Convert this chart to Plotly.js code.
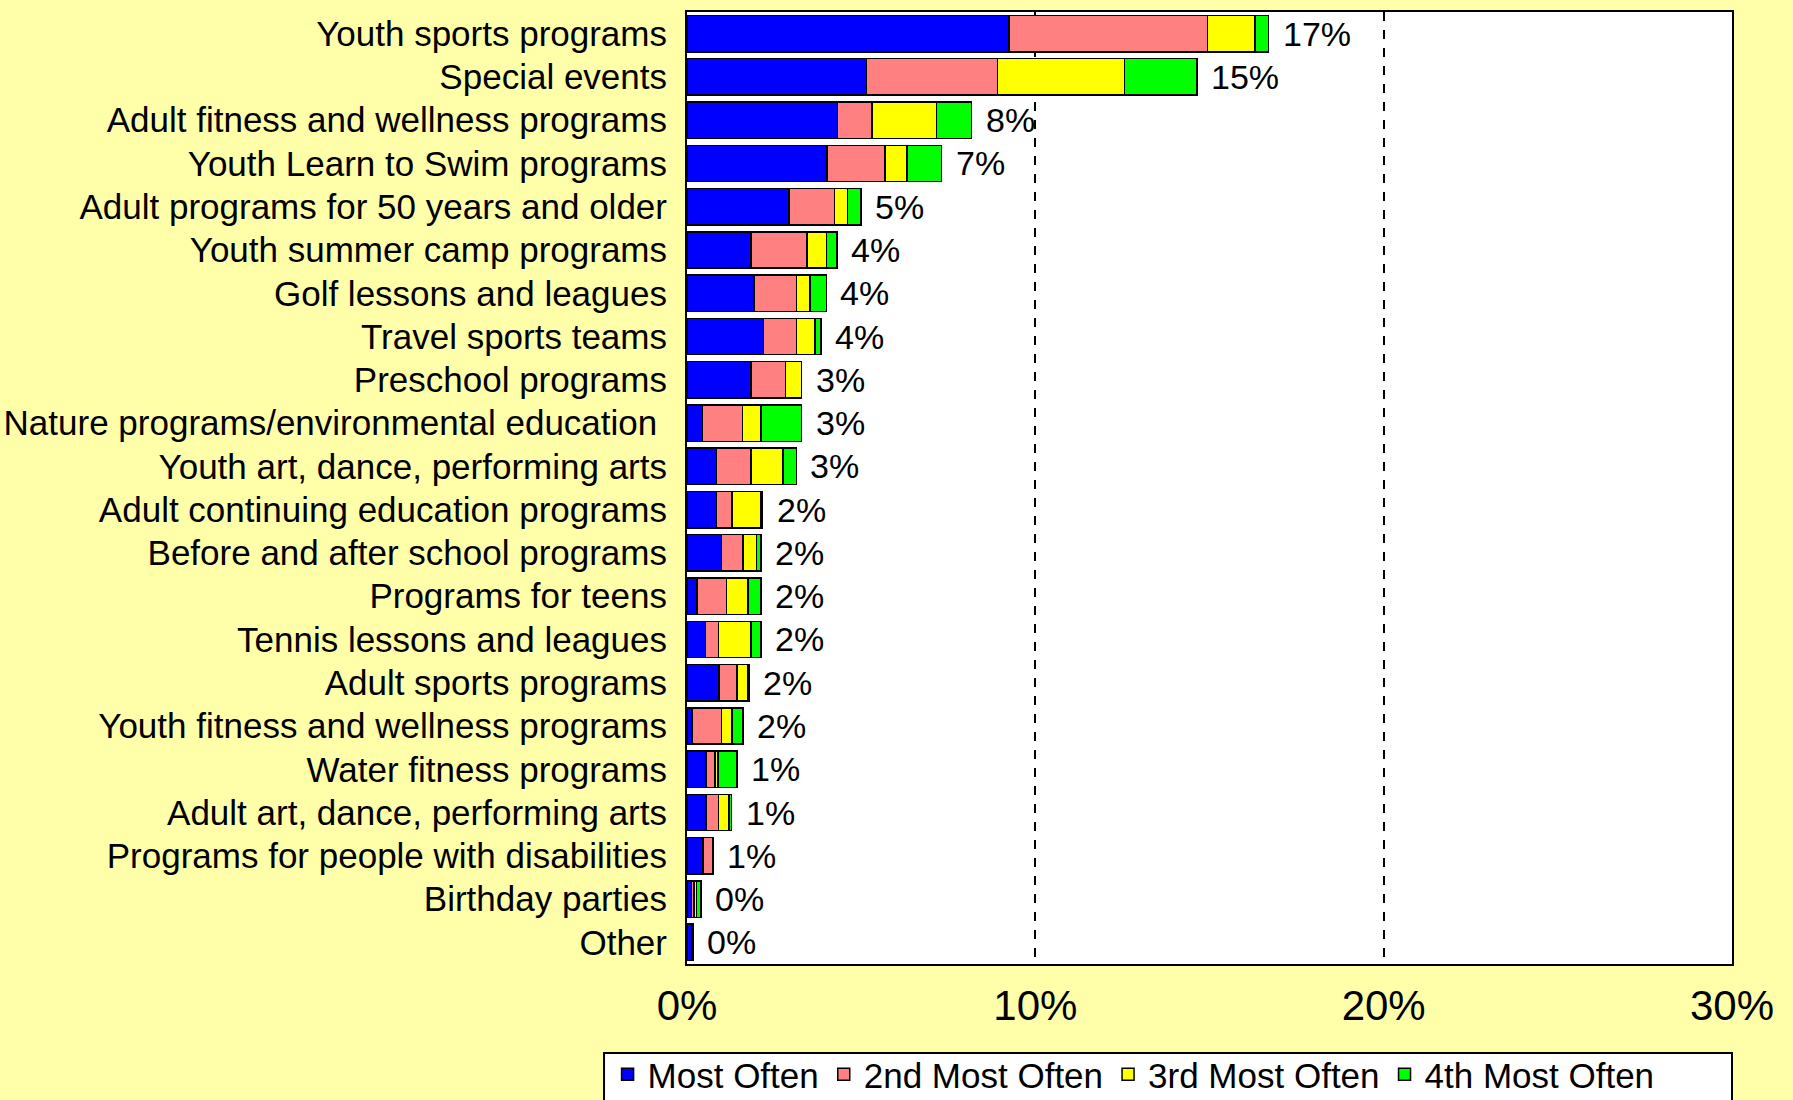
<!DOCTYPE html>
<html>
<head>
<meta charset="utf-8">
<script src="https://cdn.plot.ly/plotly-3.0.1.min.js"></script>
<style>html,body{margin:0;padding:0;background:#FFFFAA;}</style>
</head>
<body>
<div id="chart" style="width:1793px;height:1100px;"></div>
<script>
const categories = [
  "Youth sports programs",
  "Special events",
  "Adult fitness and wellness programs",
  "Youth Learn to Swim programs",
  "Adult programs for 50 years and older",
  "Youth summer camp programs",
  "Golf lessons and leagues",
  "Travel sports teams",
  "Preschool programs",
  "Nature programs/environmental education\u00a0",
  "Youth art, dance, performing arts",
  "Adult continuing education programs",
  "Before and after school programs",
  "Programs for teens",
  "Tennis lessons and leagues",
  "Adult sports programs",
  "Youth fitness and wellness programs",
  "Water fitness programs",
  "Adult art, dance, performing arts",
  "Programs for people with disabilities",
  "Birthday parties",
  "Other"
];
const mostOften   = [9.25, 5.16, 4.32, 4.02, 2.93, 1.84, 1.93, 2.20, 1.84, 0.44, 0.84, 0.84, 0.99, 0.29, 0.53, 0.92, 0.15, 0.54, 0.54, 0.46, 0.13, 0.15];
const secondOften = [5.69, 3.76, 0.99, 1.67, 1.30, 1.61, 1.22, 0.94, 0.99, 1.15, 0.99, 0.45, 0.62, 0.84, 0.38, 0.52, 0.84, 0.27, 0.37, 0.29, 0.07, 0.03];
const thirdOften  = [1.37, 3.64, 1.85, 0.62, 0.38, 0.55, 0.38, 0.53, 0.46, 0.53, 0.93, 0.83, 0.38, 0.62, 0.92, 0.29, 0.30, 0.08, 0.29, 0.00, 0.07, 0.00];
const fourthOften = [0.39, 2.08, 1.01, 1.00, 0.39, 0.31, 0.47, 0.17, 0.00, 1.17, 0.38, 0.05, 0.13, 0.38, 0.30, 0.05, 0.32, 0.55, 0.08, 0.00, 0.13, 0.00];
const totalLabels = ["17%","15%","8%","7%","5%","4%","4%","4%","3%","3%","3%","2%","2%","2%","2%","2%","2%","1%","1%","1%","0%","0%"];
const seriesNames = ["Most Often","2nd Most Often","3rd Most Often","4th Most Often"];
const seriesColors = ["#0000FF","#FF8080","#FFFF00","#00FF00"];
const tickVals = [0,10,20,30];
const tickText = ["0%","10%","20%","30%"];

const FONT = "Liberation Sans, Arial, sans-serif";
const seriesData = [mostOften, secondOften, thirdOften, fourthOften];

const traces = seriesData.map((vals, i) => ({
  type: "bar",
  orientation: "h",
  name: seriesNames[i],
  y: categories,
  x: vals,
  marker: {color: seriesColors[i], line: {color: "#000000", width: 1.5}},
  hoverinfo: "x+y+name"
}));

const totals = categories.map((c, k) => seriesData.reduce((s, arr) => s + arr[k], 0));

const annotations = categories.map((c, k) => ({
  x: totals[k], y: c, xref: "x", yref: "y",
  text: totalLabels[k], showarrow: false,
  xanchor: "left", yanchor: "middle", xshift: 12,
  font: {family: FONT, size: 34, color: "#000000"}
}));

const layout = {
  width: 1793, height: 1100,
  paper_bgcolor: "#FFFFAA",
  plot_bgcolor: "#FFFFFF",
  margin: {l: 687, r: 61, t: 12, b: 136, pad: 0, autoexpand: false},
  barmode: "stack",
  bargap: 0.16,
  showlegend: true,
  font: {family: FONT, color: "#000000"},
  xaxis: {
    range: [0, 30],
    tickvals: tickVals, ticktext: tickText,
    showgrid: true, gridcolor: "#000000", gridwidth: 2, griddash: "dash",
    zeroline: false,
    showline: true, mirror: true, linecolor: "#000000", linewidth: 2,
    ticks: "", ticklabelstandoff: 4,
    tickfont: {family: FONT, size: 42, color: "#000000"},
    fixedrange: true
  },
  yaxis: {
    type: "category",
    autorange: "reversed",
    showgrid: false, zeroline: false,
    showline: true, mirror: true, linecolor: "#000000", linewidth: 2,
    ticks: "", ticklabelstandoff: 11,
    tickfont: {family: FONT, size: 35, color: "#000000"},
    fixedrange: true
  },
  legend: {
    orientation: "h",
    traceorder: "normal",
    x: -0.076, xanchor: "left",
    y: -0.085, yanchor: "top",
    bgcolor: "rgba(0,0,0,0)",
    borderwidth: 0,
    font: {family: FONT, size: 35, color: "#000000"},
    itemwidth: 30
  },
  shapes: [{
    type: "rect", xref: "paper", yref: "paper",
    x0: -0.0794, x1: 1.0, y0: -0.0935, y1: -0.2,
    fillcolor: "#FFFFFF", line: {color: "#000000", width: 2},
    layer: "below"
  }],
  annotations: annotations
};

Plotly.newPlot("chart", traces, layout, {displayModeBar: false, staticPlot: true});
</script>
</body>
</html>
